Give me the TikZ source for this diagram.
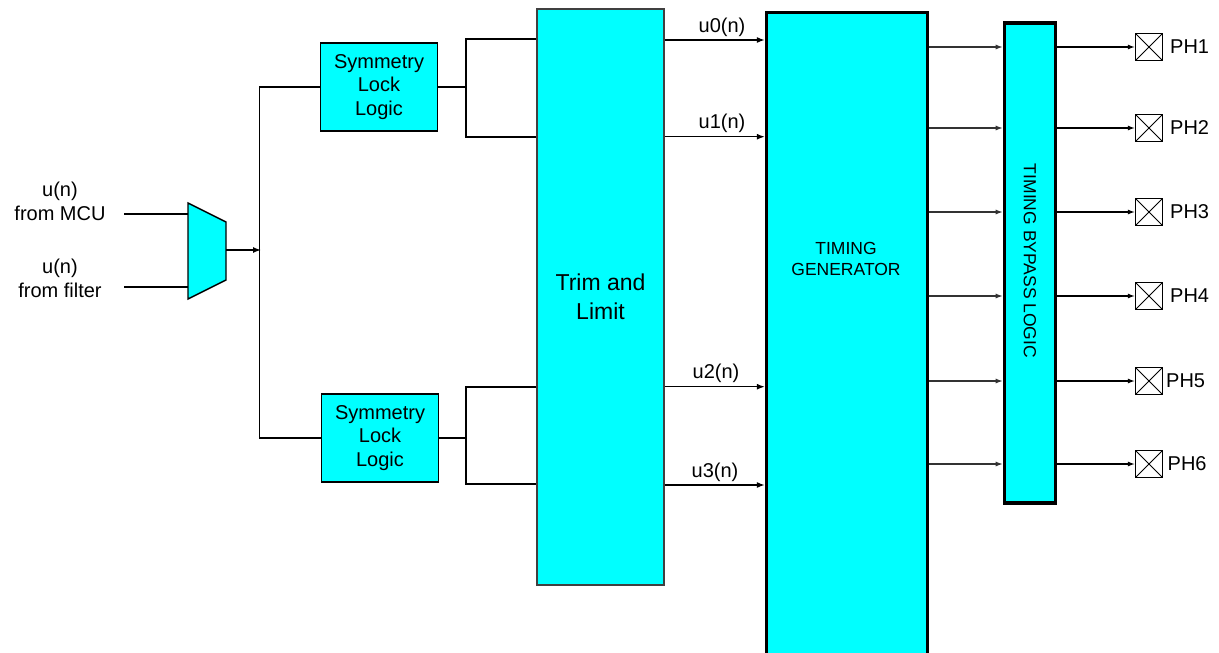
\documentclass[tikz,border=0pt]{standalone}
\usepackage{fontspec}
\setmainfont{Liberation Sans}
\usetikzlibrary{arrows.meta}
\definecolor{cy}{RGB}{0,255,255}
\begin{document}
\begin{tikzpicture}[x=1pt,y=-1pt,
  wire/.style={line width=1.4pt, draw=black},
  arr/.style={wire, -{Latex[length=8pt,width=6pt]}},
  thinarr/.style={line width=1.1pt, draw=black!80, -{Latex[length=7pt,width=5pt]}},
  lbl/.style={inner sep=0pt, font=\fontsize{20}{24}\selectfont, align=center},
  sllbox/.style={draw, line width=1.5pt, fill=cy, minimum width=117pt, minimum height=88pt,
    align=center, inner sep=0pt, font=\fontsize{20}{23.5}\selectfont},
  trimbox/.style={draw=black!75, line width=1.3pt, fill=cy, minimum width=127pt, minimum height=576pt,
    align=center, inner sep=0pt, font=\fontsize{23}{29}\selectfont},
  thickbox/.style={draw, line width=3.3pt, fill=cy, inner sep=0pt},
  smalltxt/.style={inner sep=0pt, align=center, font=\fontsize{17.5}{20.5}\selectfont},
  phbox/.style={draw, line width=1.3pt, minimum size=27pt, inner sep=0pt,
    path picture={\draw[line width=0.8pt] (path picture bounding box.north west) -- (path picture bounding box.south east)
      (path picture bounding box.south west) -- (path picture bounding box.north east);}}
]
\clip (0,0) rectangle (1219,653);

% input labels
\node[lbl] (in1) at (60,201) {u(n)\\from MCU};
\node[lbl] (in2) at (60,278) {u(n)\\from filter};
\coordinate (in1e) at (124,214);
\coordinate (in2e) at (124,287);

% mux
\draw[wire, fill=cy] (188,203) -- (226,222) -- (226,280) -- (188,299) -- cycle;
\coordinate (muxin1) at (188,214);
\coordinate (muxin2) at (188,287);
\coordinate (muxout) at (226,250);
\coordinate (split) at (261,250);
\draw[wire] (in1e) -- (muxin1);
\draw[wire] (in2e) -- (muxin2);
\draw[arr] (muxout) -- (split);

% symmetry lock logic
\node[sllbox] (sll1) at (379,87) {Symmetry\\Lock\\Logic};
\node[sllbox] (sll2) at (380,438) {Symmetry\\Lock\\Logic};
\draw[wire] (sll1.west) -- ++(-60,0) |- (sll2.west);

% trim and limit
\node[trimbox] (trim) at (600.5,297) {Trim and\\Limit};

\coordinate (s1a) at (466,39);
\coordinate (s1b) at (466,137);
\coordinate (s1m) at (466,87);
\coordinate (s2a) at (466,387);
\coordinate (s2b) at (466,484);
\coordinate (s2m) at (466,438);
\draw[wire] (sll1.east) -- (s1m);
\draw[wire] (trim.west |- s1a) -- (s1a) -- (s1b) -- (trim.west |- s1b);
\draw[wire] (sll2.east) -- (s2m);
\draw[wire] (trim.west |- s2a) -- (s2a) -- (s2b) -- (trim.west |- s2b);

% timing generator
\node[thickbox, minimum width=161pt, minimum height=700pt, anchor=north] (tg) at (847,10.5) {};
\node[smalltxt] (tgtxt) at (846,259) {TIMING\\GENERATOR};

\coordinate (u0) at (0,40);
\coordinate (u1) at (0,136.7);
\coordinate (u2) at (0,386.7);
\coordinate (u3) at (0,485);
\draw[arr] (trim.east |- u0) -- (tg.west |- u0);
\draw[arr] (trim.east |- u1) -- (tg.west |- u1);
\draw[arr] (trim.east |- u2) -- (tg.west |- u2);
\draw[arr] (trim.east |- u3) -- (tg.west |- u3);
\node[lbl, anchor=base] (lu0) at (722,32) {u0(n)};
\node[lbl, anchor=base] (lu1) at (722,128.7) {u1(n)};
\node[lbl, anchor=base] (lu2) at (716,378.7) {u2(n)};
\node[lbl, anchor=base] (lu3) at (715,477) {u3(n)};

% bypass logic
\node[thickbox, minimum width=51.4pt, minimum height=480pt] (byp) at (1030,263) {};
\node[smalltxt, rotate=-90] (byptxt) at (1030,261) {TIMING BYPASS LOGIC};

% outputs
\foreach \i/\yy/\lx in {1/47/1170,2/128/1170,3/212/1170,4/296/1170,5/381/1166,6/464/1167.5}{
  \coordinate (r\i) at (0,\yy);
  \node[phbox] (ph\i) at (1149,\yy) {};
  \node[lbl, anchor=west] (phl\i) at (\lx,\yy) {PH\i};
  \draw[thinarr] (tg.east |- r\i) -- (byp.west |- r\i);
  \draw[thinarr, draw=black] (byp.east |- r\i) -- (ph\i.west);
}
\end{tikzpicture}
\end{document}
